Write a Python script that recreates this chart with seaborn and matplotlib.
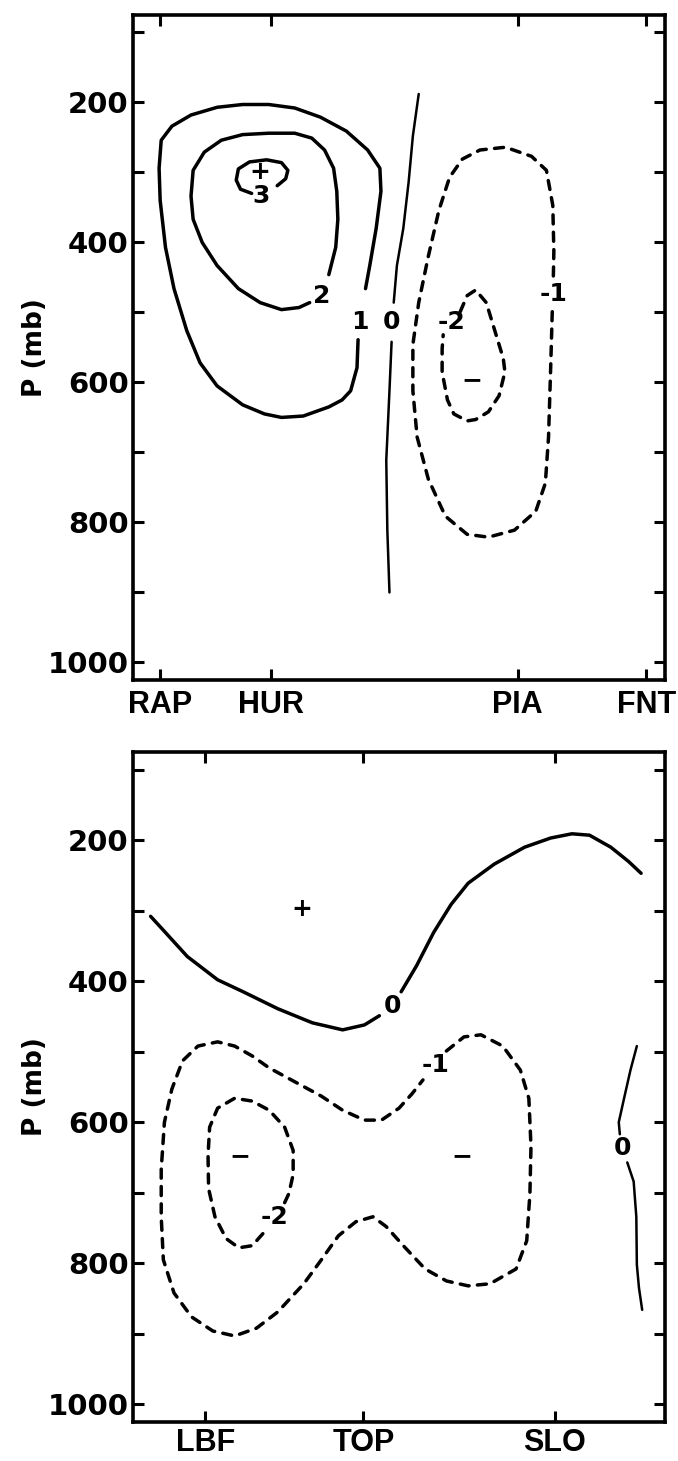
import pandas as pd
import matplotlib
matplotlib.use("Agg")
import matplotlib.pyplot as plt
import seaborn as sns

sns.set_style("white")
plt.rcParams["font.family"] = ["DejaVu Sans"]
plt.rcParams.update({"text.color": "black", "axes.labelcolor": "black",
                     "xtick.color": "black", "ytick.color": "black"})

# x = distance along the cross section (% of section), p = pressure (mb)
top_stations = ["RAP", "HUR", "PIA", "FNT"]
top_station_x = [5.0, 26.0, 72.3, 96.5]
bot_stations = ["LBF", "TOP", "SLO"]
bot_station_x = [13.6, 43.3, 79.3]

p_labels = [200, 400, 600, 800, 1000]
p_minor = [100, 300, 500, 700, 900]

# --- top section (RAP - FNT) contours, digitised ---
top_c1 = [(42.3, 539), (42.1, 579), (40.9, 612), (39.3, 625), (36.8, 635), (32.0, 648),
          (27.9, 650), (24.7, 645), (20.6, 632), (15.8, 605), (12.6, 572), (10.1, 526),
          (7.7, 466), (6.1, 407), (5.1, 340), (4.9, 294), (5.3, 254), (7.3, 234),
          (10.9, 218), (15.8, 207), (20.6, 203), (25.5, 203), (30.4, 208), (35.2, 221),
          (40.1, 241), (44.1, 268), (46.4, 294), (46.6, 327), (45.7, 380), (44.5, 433),
          (43.7, 466)]
top_c2 = [(36.8, 446), (38.1, 407), (38.5, 367), (38.3, 327), (37.7, 294), (36.0, 268),
          (33.6, 251), (30.4, 244), (25.5, 244), (20.6, 246), (16.6, 254), (13.4, 271),
          (11.3, 297), (10.9, 334), (11.3, 367), (13.0, 400), (15.8, 433), (19.8, 466),
          (23.9, 486), (27.9, 496), (31.2, 493), (33.2, 486)]
top_c3 = [(22.3, 330), (20.2, 324), (19.4, 311), (19.8, 295), (21.9, 285), (25.1, 282),
          (27.9, 286), (29.1, 297), (28.7, 309), (27.1, 319)]
top_c0a = [(53.7, 188), (52.6, 248), (51.8, 314), (50.8, 380), (49.6, 433), (49.0, 486)]
top_c0b = [(48.6, 542), (48.2, 612), (47.6, 711), (47.8, 811), (48.2, 900)]
top_cm1 = [(78.8, 499), (78.5, 579), (78.1, 678), (77.5, 744), (75.7, 784), (71.7, 811),
           (66.8, 821), (62.8, 817), (58.7, 791), (55.5, 738), (53.4, 678), (52.6, 612),
           (52.6, 546), (53.7, 486), (55.5, 420), (57.5, 354), (59.5, 307), (61.9, 281),
           (65.2, 268), (70.0, 264), (74.9, 277), (77.7, 297), (78.9, 347), (79.1, 413),
           (79.0, 450)]
top_cm2 = [(61.5, 499), (62.8, 476), (64.4, 468), (66.4, 486), (68.0, 526), (69.6, 566),
           (69.9, 585), (68.8, 619), (66.8, 642), (64.4, 653), (62.8, 655), (60.3, 645),
           (59.1, 625), (58.1, 585), (58.1, 552), (58.3, 532)]
top_text = [("1", 42.6, 513), ("2", 35.4, 476), ("+", 23.9, 300), ("3", 24.1, 333),
            ("0", 48.6, 513), ("-2", 59.8, 513), ("-1", 79.0, 474), ("−", 63.6, 597)]

# --- bottom section (LBF - SLO) contours, digitised ---
bot_c0a = [(3.3, 308), (6.1, 331), (10.2, 365), (15.9, 398), (20.7, 415), (27.2, 439),
           (33.7, 459), (39.4, 469), (43.5, 462), (46.3, 449)]
bot_c0b = [(50.4, 415), (53.3, 378), (56.5, 331), (59.8, 291), (63.0, 261), (67.9, 234),
           (73.6, 210), (78.5, 197), (82.5, 191), (85.8, 193), (89.8, 210), (93.1, 230),
           (95.5, 247)]
bot_c0c = [(94.7, 492), (93.5, 526), (92.3, 566), (91.3, 600), (91.5, 617)]
bot_c0d = [(92.9, 657), (94.1, 684), (94.6, 734), (94.7, 802), (95.1, 835), (95.7, 866)]
bot_cm1 = [(58.9, 499), (62.2, 479), (65.4, 476), (69.5, 492), (72.8, 526), (74.4, 566),
           (74.8, 634), (74.6, 701), (74.0, 768), (72.0, 808), (67.1, 829), (63.0, 832),
           (58.9, 825), (54.9, 808), (50.8, 775), (47.6, 748), (45.1, 734), (41.9, 741),
           (38.6, 761), (35.4, 795), (32.1, 829), (27.2, 869), (23.2, 892), (19.1, 903),
           (15.0, 896), (11.0, 876), (7.7, 842), (5.7, 795), (5.3, 734), (5.3, 667),
           (5.9, 600), (7.3, 553), (9.3, 513), (12.2, 492), (15.9, 486), (19.1, 492),
           (22.4, 506), (25.6, 523), (30.5, 543), (35.4, 563), (39.4, 583), (43.5, 597),
           (46.7, 597), (50.0, 580), (52.4, 560), (54.5, 540)]
bot_cm2 = [(24.4, 758), (22.4, 775), (19.9, 778), (17.5, 765), (15.4, 734), (14.2, 694),
           (14.1, 647), (14.4, 607), (15.9, 580), (19.1, 566), (22.4, 570), (25.6, 583),
           (28.5, 607), (30.1, 640), (30.1, 674), (29.3, 701), (28.5, 714)]
bot_text = [("+", 31.7, 297), ("0", 48.8, 435), ("-1", 56.9, 519), ("-2", 26.6, 734),
            ("−", 20.1, 648), ("−", 61.8, 648), ("0", 92.0, 637)]


def contour(ax, pts, lw=2.5, dashed=False):
    d = pd.DataFrame(pts, columns=["x", "p"])
    kw = dict(color="black", lw=lw, solid_capstyle="round", dash_capstyle="round",
              solid_joinstyle="round")
    if dashed:
        kw["linestyle"] = (0, (2.6, 2.4))
    sns.lineplot(data=d, x="x", y="p", sort=False, estimator=None, ax=ax, **kw)


def frame(ax, names, xs, pad_x):
    ax.set_xlim(0, 100)
    ax.set_ylim(1025, 75)
    ax.set_xticks(xs)
    ax.set_xticklabels(names, fontfamily="Liberation Sans", fontweight="bold", fontsize=22)
    ax.set_yticks(p_labels)
    ax.set_yticklabels([str(v) for v in p_labels], fontweight="bold", fontsize=21)
    ax.set_yticks(p_minor, minor=True)
    ax.tick_params(axis="both", which="both", direction="in", length=8, width=2.2,
                   top=True, right=True, left=True, bottom=True, color="black")
    ax.tick_params(axis="x", pad=pad_x)
    ax.tick_params(axis="y", pad=3)
    for s in ax.spines.values():
        s.set_linewidth(2.6)
        s.set_color("black")
    ax.set_xlabel("")
    ax.set_ylabel("P (mb)", fontweight="bold", fontsize=19, labelpad=0)


def label(ax, items):
    for t, x, p in items:
        ax.text(x, p, t, ha="center", va="center", fontsize=18, fontweight="bold")


fig = plt.figure(figsize=(6.78, 14.61), dpi=100)
ax1 = fig.add_axes([0.1962, 0.5346, 0.7847, 0.4552])
ax2 = fig.add_axes([0.1962, 0.0267, 0.7847, 0.4586])

for pts in [top_c1, top_c2, top_c3]:
    contour(ax1, pts)
contour(ax1, top_c0a, lw=1.8)
contour(ax1, top_c0b, lw=1.8)
contour(ax1, top_cm1, dashed=True)
contour(ax1, top_cm2, dashed=True)
label(ax1, top_text)
frame(ax1, top_stations, top_station_x, 7)

contour(ax2, bot_c0a)
contour(ax2, bot_c0b)
contour(ax2, bot_c0c, lw=1.8)
contour(ax2, bot_c0d, lw=1.8)
contour(ax2, bot_cm1, dashed=True)
contour(ax2, bot_cm2, dashed=True)
label(ax2, bot_text)
frame(ax2, bot_stations, bot_station_x, 4)

fig.savefig("out.png", dpi=100)
